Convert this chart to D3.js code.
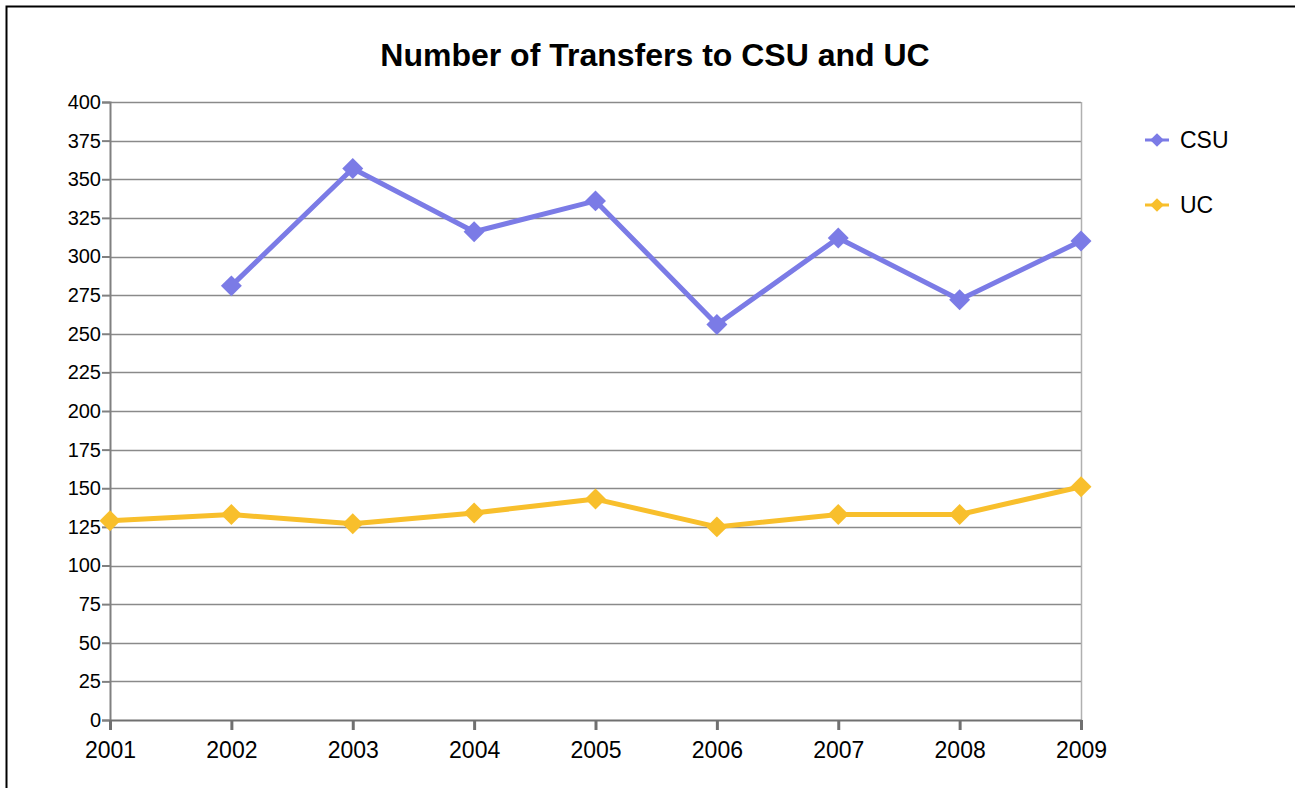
<!DOCTYPE html>
<html>
<head>
<meta charset="utf-8">
<script src="https://cdn.jsdelivr.net/npm/d3@7"></script>
<style>
  body { margin: 0; background: #fff; }
  text { font-family: "Liberation Sans", Arial, sans-serif; }
</style>
</head>
<body>
<svg id="chart" width="1295" height="788"></svg>
<script>
const years = [2001, 2002, 2003, 2004, 2005, 2006, 2007, 2008, 2009];
const csu = [null, 281, 357, 316, 336, 256, 312, 272, 310];
const uc = [129, 133, 127, 134, 143, 125, 133, 133, 151];
const yTicks = d3.range(0, 401, 25);

const svg = d3.select("#chart");
const margin = {top: 102, right: 214, bottom: 68, left: 110};
const width = 1295 - margin.left - margin.right;
const height = 788 - margin.top - margin.bottom;

// outer frame (cut off at right and bottom)
svg.append("rect")
  .attr("x", 6.5).attr("y", 6.5)
  .attr("width", 1400).attr("height", 1000)
  .attr("fill", "none").attr("stroke", "#000").attr("stroke-width", 2);

svg.append("text")
  .attr("x", 655).attr("y", 66)
  .attr("text-anchor", "middle")
  .attr("font-size", 32).attr("font-weight", "bold")
  .text("Number of Transfers to CSU and UC");

const g = svg.append("g").attr("transform", `translate(${margin.left},${margin.top})`);

const x = d3.scalePoint().domain(years).range([0, width]);
const y = d3.scaleLinear().domain([0, 400]).range([height, 0]);

// grid
g.append("g").selectAll("line")
  .data(yTicks.filter(d => d > 0))
  .enter().append("line")
  .attr("x1", 0).attr("x2", width)
  .attr("y1", d => Math.round(y(d)) + 0.5).attr("y2", d => Math.round(y(d)) + 0.5)
  .attr("stroke", "#8a8a8a").attr("stroke-width", 1.3);

// right border of plot
g.append("line")
  .attr("x1", width + 0.5).attr("x2", width + 0.5)
  .attr("y1", 0).attr("y2", height)
  .attr("stroke", "#b0b0b0").attr("stroke-width", 1.5);

// y axis
const yAxis = g.append("g")
  .call(d3.axisLeft(y).tickValues(yTicks).tickSize(8).tickPadding(1).tickFormat(d3.format("d")));
yAxis.select(".domain").attr("stroke", "#808080").attr("stroke-width", 2);
yAxis.selectAll(".tick line").attr("stroke", "#808080").attr("stroke-width", 2);
yAxis.selectAll("text").attr("font-size", 20).attr("fill", "#000")
  .attr("font-family", "Liberation Sans, Arial, sans-serif");

// x axis
const xAxis = g.append("g")
  .attr("transform", `translate(0,${height})`)
  .call(d3.axisBottom(x).tickSize(10).tickSizeOuter(0).tickPadding(12));
xAxis.select(".domain").attr("stroke", "#707070").attr("stroke-width", 2);
xAxis.selectAll(".tick line").attr("stroke", "#707070").attr("stroke-width", 3);
xAxis.selectAll("text").attr("font-size", 23).attr("fill", "#000")
  .attr("font-family", "Liberation Sans, Arial, sans-serif");

const series = [
  {name: "CSU", values: csu, color: "#7b7be6"},
  {name: "UC", values: uc, color: "#f8bf2c"}
];

const line = d3.line()
  .defined(d => d.v != null)
  .x(d => x(d.year)).y(d => y(d.v));

const diamond = d3.symbol().type(d3.symbolDiamond2).size(280);

series.forEach(s => {
  const pts = years.map((yr, i) => ({year: yr, v: s.values[i]}));
  g.append("path")
    .datum(pts)
    .attr("d", line)
    .attr("fill", "none")
    .attr("stroke", s.color)
    .attr("stroke-width", 5)
    .attr("stroke-linejoin", "round");
  g.selectAll(null)
    .data(pts.filter(d => d.v != null))
    .enter().append("path")
    .attr("d", diamond)
    .attr("transform", d => `translate(${x(d.year)},${y(d.v)})`)
    .attr("fill", s.color);
});

// legend
const legend = svg.append("g").attr("transform", "translate(1145,140)");
series.forEach((s, i) => {
  const row = legend.append("g").attr("transform", `translate(0,${i * 65})`);
  row.append("line").attr("x1", 0).attr("x2", 24).attr("y1", 0).attr("y2", 0)
    .attr("stroke", s.color).attr("stroke-width", 3);
  row.append("path").attr("d", d3.symbol().type(d3.symbolDiamond2).size(120))
    .attr("transform", "translate(12,0)").attr("fill", s.color);
  row.append("text").attr("x", 35).attr("y", 8).attr("font-size", 23).text(s.name);
});
</script>
</body>
</html>
